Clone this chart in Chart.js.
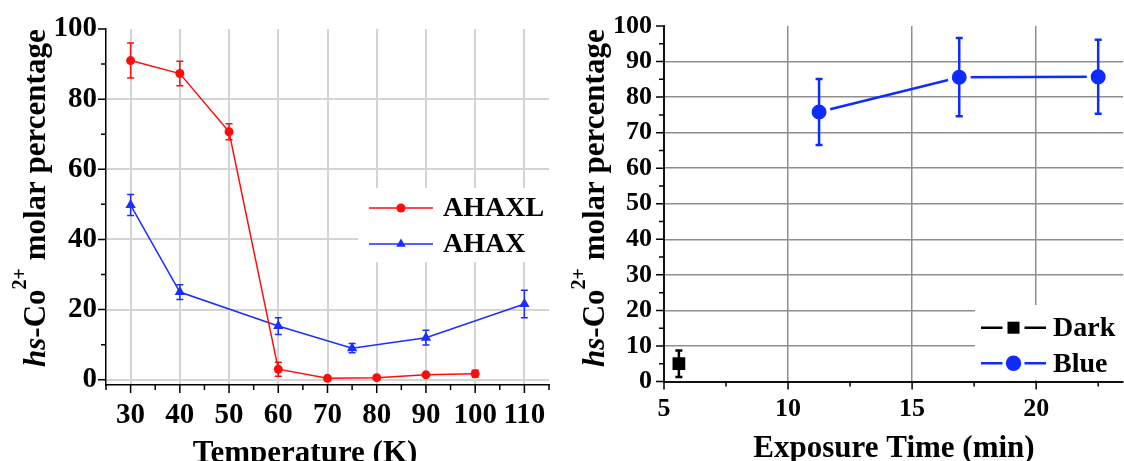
<!DOCTYPE html>
<html>
<head>
<meta charset="utf-8">
<script src="https://cdn.jsdelivr.net/npm/chart.js@4.4.1/dist/chart.umd.min.js"></script>
<style>
  html, body { margin: 0; padding: 0; background: #fff; }
  #tempChart { position: absolute; left: 0; top: 0; }
  #timeChart { position: absolute; left: 560px; top: 0; }
</style>
</head>
<body>
<canvas id="tempChart" width="560" height="461"></canvas>
<canvas id="timeChart" width="564" height="461"></canvas>
<script>
const SERIF = '"Liberation Serif", "Times New Roman", serif';

// ---- Temperature dependence ----
const temperatureK   = [30, 40, 50, 60, 70, 80, 90, 100];
const ahaxlPct       = [91, 87.3, 70.7, 3, 0.4, 0.6, 1.4, 1.7];
const ahaxlErr       = [5, 3.5, 2.3, 2, 0, 0, 0, 1];
const temperatureK2  = [30, 40, 60, 75, 90, 110];
const ahaxPct        = [49.8, 25, 15.3, 9, 12, 21.6];
const ahaxErr        = [3, 2.1, 2.4, 1.3, 2.1, 3.9];
const tempTicks      = [30, 40, 50, 60, 70, 80, 90, 100, 110];
const tempMinorTicks = [25, 35, 45, 55, 65, 75, 85, 95, 105, 115];
const pctTicksLeft   = [0, 20, 40, 60, 80, 100];
const pctMinorLeft   = [10, 30, 50, 70, 90];

// ---- Exposure time dependence ----
const darkMin        = [5.6];
const darkPct        = [5];
const darkErr        = [3.7];
const blueMin        = [11.25, 16.9, 22.5];
const bluePct        = [75.8, 85.6, 85.7];
const blueErr        = [9.3, 11, 10.4];
const timeTicks      = [5, 10, 15, 20];
const timeMinorTicks = [7.5, 12.5, 17.5, 22.5];
const pctTicksRight  = [0, 10, 20, 30, 40, 50, 60, 70, 80, 90, 100];
const pctMinorRight  = [5, 15, 25, 35, 45, 55, 65, 75, 85, 95];

const toPoints = (xs, ys) => xs.map((x, i) => ({ x: x, y: ys[i] }));

function drawMarker(ctx, style, x, y, r, color) {
  ctx.save();
  ctx.fillStyle = color;
  ctx.beginPath();
  if (style === 'triangle') {
    for (let k = 0; k < 3; k++) {
      const a = k * 2 * Math.PI / 3;
      const px = x + Math.sin(a) * r, py = y - Math.cos(a) * r;
      k ? ctx.lineTo(px, py) : ctx.moveTo(px, py);
    }
    ctx.closePath();
  } else if (style === 'rect') {
    const s = r * Math.SQRT1_2;
    ctx.rect(x - s, y - s, 2 * s, 2 * s);
  } else {
    ctx.arc(x, y, r, 0, Math.PI * 2);
  }
  ctx.fill();
  ctx.restore();
}

function drawYTitle(ctx, x, yStart, size) {
  ctx.save();
  ctx.translate(x, yStart);
  ctx.rotate(-Math.PI / 2);
  ctx.fillStyle = '#000';
  ctx.textAlign = 'left';
  ctx.textBaseline = 'alphabetic';
  let pos = 0;
  const seg = (txt, font, dy) => {
    ctx.font = font;
    ctx.fillText(txt, pos, dy || 0);
    pos += ctx.measureText(txt).width;
  };
  seg('hs', `italic bold ${size}px ${SERIF}`);
  seg('-Co', `bold ${size}px ${SERIF}`);
  seg('2+', `bold ${Math.round(size * 0.66)}px ${SERIF}`, -size * 0.6);
  seg(' molar percentage', `bold ${size}px ${SERIF}`);
  ctx.restore();
}

// Error bars, minor/major tick marks, inset legend and axis titles
const decor = {
  id: 'decor',
  afterDatasetsDraw(chart, args, o) {
    const ctx = chart.ctx, ys = chart.scales.y;
    chart.data.datasets.forEach((ds, i) => {
      if (!ds.errors) return;
      const meta = chart.getDatasetMeta(i);
      ctx.save();
      ctx.strokeStyle = ds.borderColor;
      ctx.lineWidth = o.errWidth;
      meta.data.forEach((pt, j) => {
        const e = ds.errors[j];
        if (!e) return;
        const v = ds.data[j].y, x = pt.x;
        const y1 = ys.getPixelForValue(v + e), y2 = ys.getPixelForValue(v - e);
        ctx.beginPath();
        ctx.moveTo(x, y1); ctx.lineTo(x, y2);
        ctx.moveTo(x - o.cap, y1); ctx.lineTo(x + o.cap, y1);
        ctx.moveTo(x - o.cap, y2); ctx.lineTo(x + o.cap, y2);
        ctx.stroke();
      });
      ctx.restore();
    });
  },
  afterDraw(chart, args, o) {
    const ctx = chart.ctx, xs = chart.scales.x, ys = chart.scales.y, ca = chart.chartArea;
    ctx.save();
    ctx.strokeStyle = '#000';
    ctx.lineWidth = 1.5;
    ctx.beginPath();
    o.xMajor.forEach(v => { const x = xs.getPixelForValue(v); ctx.moveTo(x, ca.bottom); ctx.lineTo(x, ca.bottom + o.majorLen); });
    o.xMinor.forEach(v => { const x = xs.getPixelForValue(v); ctx.moveTo(x, ca.bottom); ctx.lineTo(x, ca.bottom + o.minorLen); });
    o.yMajor.forEach(v => { const y = ys.getPixelForValue(v); ctx.moveTo(ca.left, y); ctx.lineTo(ca.left - o.majorLen, y); });
    o.yMinor.forEach(v => { const y = ys.getPixelForValue(v); ctx.moveTo(ca.left, y); ctx.lineTo(ca.left - o.minorLen, y); });
    ctx.stroke();

    // inset legend
    const lg = o.legend;
    ctx.fillStyle = '#fff';
    ctx.fillRect(lg.box[0], lg.box[1], lg.box[2], lg.box[3]);
    chart.data.datasets.forEach((ds, i) => {
      const y = lg.y0 + i * lg.dy;
      const mid = (lg.x0 + lg.x1) / 2;
      ctx.strokeStyle = ds.borderColor;
      ctx.lineWidth = ds.borderWidth;
      ctx.beginPath();
      if (lg.gap) {
        ctx.moveTo(lg.x0, y); ctx.lineTo(mid - lg.gap, y);
        ctx.moveTo(mid + lg.gap, y); ctx.lineTo(lg.x1, y);
      } else {
        ctx.moveTo(lg.x0, y); ctx.lineTo(lg.x1, y);
      }
      ctx.stroke();
      drawMarker(ctx, ds.pointStyle, mid, y, ds.legendRadius, ds.pointBackgroundColor);
      ctx.fillStyle = '#000';
      ctx.font = `bold ${lg.size}px ${SERIF}`;
      ctx.textAlign = 'left';
      ctx.textBaseline = 'middle';
      ctx.fillText(ds.label, lg.tx, y + 1);
    });

    // axis titles
    ctx.fillStyle = '#000';
    ctx.font = `bold ${o.titleSize}px ${SERIF}`;
    ctx.textAlign = 'center';
    ctx.textBaseline = 'alphabetic';
    ctx.fillText(o.xTitle, o.xTitlePos[0], o.xTitlePos[1]);
    drawYTitle(ctx, o.yTitlePos[0], o.yTitlePos[1], o.titleSize);
    ctx.restore();
  }
};

function fixedTicks(list) {
  return scale => { scale.ticks = list.map(v => ({ value: v })); };
}
function fixedSize(prop, px) {
  return scale => {
    scale[prop] = px;
    scale.paddingLeft = 0; scale.paddingRight = 0;
    scale.paddingTop = 0; scale.paddingBottom = 0;
  };
}

const baseOpts = {
  responsive: false,
  animation: false,
  events: [],
};

// ---------- Temperature chart ----------
new Chart(document.getElementById('tempChart'), {
  type: 'line',
  data: {
    datasets: [
      {
        label: 'AHAXL',
        data: toPoints(temperatureK, ahaxlPct),
        errors: ahaxlErr,
        borderColor: '#ff0d0d',
        backgroundColor: '#ff0d0d',
        pointBackgroundColor: '#ff0d0d',
        pointBorderColor: '#ff0d0d',
        borderWidth: 1.5,
        pointStyle: 'circle',
        pointRadius: 4.5,
        legendRadius: 4.5,
        pointBorderWidth: 0,
        tension: 0
      },
      {
        label: 'AHAX',
        data: toPoints(temperatureK2, ahaxPct),
        errors: ahaxErr,
        borderColor: '#1a2eff',
        backgroundColor: '#1a2eff',
        pointBackgroundColor: '#1a2eff',
        pointBorderColor: '#1a2eff',
        borderWidth: 1.5,
        pointStyle: 'triangle',
        pointRadius: 6,
        legendRadius: 5.5,
        pointBorderWidth: 0,
        tension: 0
      }
    ]
  },
  options: Object.assign({}, baseOpts, {
    layout: { autoPadding: false, padding: { left: 0, top: 29, right: 11, bottom: 0 } },
    scales: {
      x: {
        type: 'linear', min: 25, max: 115,
        afterBuildTicks: fixedTicks(tempTicks),
        afterFit: fixedSize('height', 76),
        grid: { color: '#d4d4d4', lineWidth: 2, drawTicks: false },
        border: { display: true, color: '#000', width: 1.5 },
        ticks: { color: '#000', padding: 13, font: { family: SERIF, size: 29, weight: 'bold' }, callback: v => String(v) }
      },
      y: {
        type: 'linear', min: -1.5, max: 100,
        afterBuildTicks: fixedTicks(pctTicksLeft),
        afterFit: fixedSize('width', 106),
        grid: { color: c => (c.tick && c.tick.value === 100) ? 'rgba(0,0,0,0)' : '#d4d4d4', lineWidth: 2, drawTicks: false },
        border: { display: true, color: '#000', width: 1.5 },
        ticks: { color: '#000', padding: 9, font: { family: SERIF, size: 29, weight: 'bold' }, callback: v => String(v) }
      }
    },
    plugins: {
      legend: { display: false },
      tooltip: { enabled: false },
      decor: {
        errWidth: 1.5, cap: 3.5,
        majorLen: 8, minorLen: 5,
        xMajor: tempTicks, xMinor: tempMinorTicks,
        yMajor: pctTicksLeft, yMinor: pctMinorLeft,
        legend: { box: [358, 188, 192, 74], x0: 369, x1: 433, y0: 208, dy: 36, tx: 443, size: 28, gap: 0 },
        titleSize: 31,
        xTitle: 'Temperature (K)', xTitlePos: [305, 462],
        yTitlePos: [45, 367]
      }
    }
  }),
  plugins: [decor]
});

// ---------- Exposure time chart ----------
new Chart(document.getElementById('timeChart'), {
  type: 'line',
  data: {
    datasets: [
      {
        label: 'Dark',
        data: toPoints(darkMin, darkPct),
        errors: darkErr,
        borderColor: '#000',
        backgroundColor: '#000',
        pointBackgroundColor: '#000',
        pointBorderColor: '#000',
        borderWidth: 2.5,
        pointStyle: 'rect',
        pointRadius: 9,
        legendRadius: 8.5,
        pointBorderWidth: 0,
        tension: 0
      },
      {
        label: 'Blue',
        data: toPoints(blueMin, bluePct),
        errors: blueErr,
        borderColor: '#0f2cff',
        backgroundColor: '#0f2cff',
        pointBackgroundColor: '#0f2cff',
        pointBorderColor: '#fff',
        borderWidth: 2.5,
        pointStyle: 'circle',
        pointRadius: 9.5,
        legendRadius: 7.7,
        pointBorderWidth: 4,
        tension: 0
      }
    ]
  },
  options: Object.assign({}, baseOpts, {
    layout: { autoPadding: false, padding: { left: 0, top: 26, right: 1, bottom: 0 } },
    scales: {
      x: {
        type: 'linear', min: 5, max: 23.5,
        afterBuildTicks: fixedTicks(timeTicks),
        afterFit: fixedSize('height', 79.5),
        grid: { color: c => (c.tick && c.tick.value === 5) ? 'rgba(0,0,0,0)' : '#8e8e8e', lineWidth: 1.5, drawTicks: false },
        border: { display: true, color: '#111', width: 2 },
        ticks: { color: '#000', padding: 12, font: { family: SERIF, size: 26, weight: 'bold' }, callback: v => String(v) }
      },
      y: {
        type: 'linear', min: 0, max: 100,
        afterBuildTicks: fixedTicks(pctTicksRight),
        afterFit: fixedSize('width', 104),
        grid: { color: c => (c.tick && (c.tick.value === 100 || c.tick.value === 0)) ? 'rgba(0,0,0,0)' : '#8e8e8e', lineWidth: 1.5, drawTicks: false },
        border: { display: true, color: '#111', width: 2 },
        ticks: { color: '#000', padding: 12, font: { family: SERIF, size: 26, weight: 'bold' }, callback: v => String(v) }
      }
    },
    plugins: {
      legend: { display: false },
      tooltip: { enabled: false },
      decor: {
        errWidth: 2.5, cap: 3.5,
        majorLen: 8, minorLen: 5,
        xMajor: timeTicks, xMinor: timeMinorTicks,
        yMajor: pctTicksRight, yMinor: pctMinorRight,
        legend: { box: [415, 305, 149, 75], x0: 421, x1: 486, y0: 327.7, dy: 35.6, tx: 493, size: 28, gap: 11 },
        titleSize: 31,
        xTitle: 'Exposure Time (min)', xTitlePos: [334, 457],
        yTitlePos: [44, 367]
      }
    }
  }),
  plugins: [decor]
});
</script>
</body>
</html>
